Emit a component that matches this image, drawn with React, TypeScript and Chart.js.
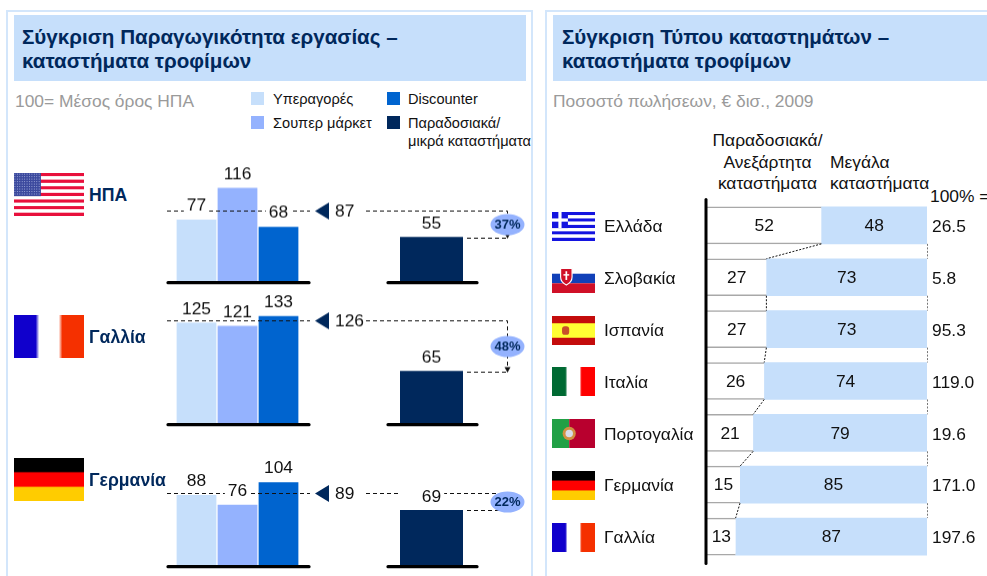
import React, { useEffect, useRef } from "react";
import { Chart, registerables } from "chart.js";

Chart.register(...registerables);

const FONT = "'Liberation Sans', Arial, sans-serif";
const NAVY = "#00285c";
const LIGHT = "#c6dffb";
const MID = "#94b2fe";
const BLUE = "#0064cf";
const NUM = 17.4;

// Productivity panel
const productivityCountries = ["ΗΠΑ", "Γαλλία", "Γερμανία"];
const storeTypes = ["Υπεραγορές", "Σουπερ μάρκετ", "Discounter"];
const traditionalLabel = ["Παραδοσιακά/ μικρά καταστήματα"];
const hypermarkets = [77, 125, 88];
const supermarkets = [116, 121, 76];
const discounters = [68, 133, 104];
const traditional = [55, 65, 69];
const modernAverage = [87, 126, 89];
const gapLabels = ["37%", "48%", "22%"];

// Share panel
const shareCountries = ["Ελλάδα", "Σλοβακία", "Ισπανία", "Ιταλία", "Πορτογαλία", "Γερμανία", "Γαλλία"];
const independentShare = [52, 27, 27, 26, 21, 15, 13];
const largeShare = [48, 73, 73, 74, 79, 85, 87];
const totals = ["26.5", "5.8", "95.3", "119.0", "19.6", "171.0", "197.6"];

const Y_MAX = 160;
const PLOT_H = 129.6;
const PAD_TOP = 20;
const PAD_BOTTOM = 4;
const baselines = [282, 424, 566.5];

function barLabel(ctx: any, text: string, x: number, y: number, boxLeft?: number) {
  ctx.font = `${NUM}px ${FONT}`;
  const w = ctx.measureText(text).width;
  const l = boxLeft === undefined ? x - w / 2 - 3 : boxLeft;
  ctx.fillStyle = "#fff";
  ctx.fillRect(l, y - 8, x + w / 2 + 3 - l, 16);
  ctx.fillStyle = "#111";
  ctx.textAlign = "center";
  ctx.textBaseline = "middle";
  ctx.fillText(text, x, y);
}

function crisp(v: number) {
  return Math.round(v) + 0.5;
}

function dashed(ctx: any, pts: number[][]) {
  ctx.save();
  ctx.strokeStyle = "#111";
  ctx.lineWidth = 1;
  ctx.setLineDash([4, 3]);
  ctx.beginPath();
  pts.forEach((p, i) => (i ? ctx.lineTo(p[0], p[1]) : ctx.moveTo(p[0], p[1])));
  ctx.stroke();
  ctx.restore();
}

function baseline(ctx: any, x0: number, x1: number, y: number) {
  ctx.save();
  ctx.strokeStyle = "#000";
  ctx.lineWidth = 3.2;
  ctx.lineCap = "round";
  ctx.beginPath();
  ctx.moveTo(x0, y);
  ctx.lineTo(x1, y);
  ctx.stroke();
  ctx.restore();
}

function modernConfig(i: number): any {
  const values = [hypermarkets[i], supermarkets[i], discounters[i]];
  return {
    type: "bar",
    data: {
      labels: storeTypes,
      datasets: [{
        data: values,
        backgroundColor: [LIGHT, MID, BLUE],
        barPercentage: 0.97,
        categoryPercentage: 1,
      }],
    },
    options: {
      responsive: false,
      animation: false,
      layout: { padding: { left: 16, right: 71, top: PAD_TOP, bottom: PAD_BOTTOM } },
      plugins: { legend: { display: false }, tooltip: { enabled: false } },
      scales: {
        x: { display: false },
        y: { display: false, min: 0, max: Y_MAX },
      },
    },
    plugins: [{
      id: "modernMarks",
      afterDatasetsDraw(chart: any) {
        const { ctx, chartArea: a, scales } = chart;
        const y0 = scales.y.getPixelForValue(0);
        const ya = crisp(scales.y.getPixelForValue(modernAverage[i]) - 1);
        baseline(ctx, a.left - 8, a.right + 10, y0 + 0.7);
        dashed(ctx, [[a.left - 9, ya], [a.right + 11, ya]]);
        ctx.save();
        chart.getDatasetMeta(0).data.forEach((b: any, k: number) => {
          barLabel(ctx, String(values[k]), b.x, b.y - 13.5);
        });
        ctx.fillStyle = NAVY;
        ctx.beginPath();
        ctx.moveTo(a.right + 16, ya);
        ctx.lineTo(a.right + 30, ya - 8.5);
        ctx.lineTo(a.right + 30, ya + 8.5);
        ctx.closePath();
        ctx.fill();
        ctx.fillStyle = "#111";
        ctx.font = `${NUM}px ${FONT}`;
        ctx.textAlign = "left";
        ctx.textBaseline = "middle";
        ctx.fillText(String(modernAverage[i]), a.right + 36, ya + 1);
        ctx.restore();
      },
    }],
  };
}

function traditionalConfig(i: number): any {
  return {
    type: "bar",
    data: {
      labels: traditionalLabel,
      datasets: [{
        data: [traditional[i]],
        backgroundColor: NAVY,
        barPercentage: 1,
        categoryPercentage: 1,
      }],
    },
    options: {
      responsive: false,
      animation: false,
      layout: { padding: { left: 40, right: 67, top: PAD_TOP, bottom: PAD_BOTTOM } },
      plugins: { legend: { display: false }, tooltip: { enabled: false } },
      scales: {
        x: { display: false },
        y: { display: false, min: 0, max: Y_MAX },
      },
    },
    plugins: [{
      id: "gapMarks",
      afterDatasetsDraw(chart: any) {
        const { ctx, chartArea: a, scales } = chart;
        const y0 = scales.y.getPixelForValue(0);
        const ya = crisp(scales.y.getPixelForValue(modernAverage[i]) - 1);
        const bar = chart.getDatasetMeta(0).data[0];
        const yb = crisp(bar.y);
        const xr = Math.round(a.right + 44) + 0.5;
        baseline(ctx, a.left - 12, a.right + 14, y0 + 0.7);
        dashed(ctx, [[6, ya], [xr, ya], [xr, yb - 2]]);
        dashed(ctx, [[a.right + 4, yb], [xr, yb]]);
        ctx.save();
        barLabel(ctx, String(traditional[i]), bar.x, bar.y - 13.5, a.left);
        ctx.fillStyle = "#111";
        ctx.beginPath();
        ctx.moveTo(xr - 3, yb - 5);
        ctx.lineTo(xr + 3, yb - 5);
        ctx.lineTo(xr, yb + 0.5);
        ctx.closePath();
        ctx.fill();
        const cy = (ya + yb) / 2;
        ctx.fillStyle = MID;
        ctx.beginPath();
        ctx.ellipse(xr, cy, 17, 10.5, 0, 0, Math.PI * 2);
        ctx.fill();
        ctx.fillStyle = NAVY;
        ctx.font = `bold 13px ${FONT}`;
        ctx.textAlign = "center";
        ctx.textBaseline = "middle";
        ctx.fillText(gapLabels[i], xr, cy + 0.5);
        ctx.restore();
      },
    }],
  };
}

function shareConfig(): any {
  return {
    type: "bar",
    data: {
      labels: shareCountries,
      datasets: [
        {
          data: independentShare,
          backgroundColor: "#fff",
          borderColor: "#a8a8a8",
          borderWidth: { top: 1.5, bottom: 1.5, right: 0, left: 0 },
          borderSkipped: false,
          barThickness: 37,
          stack: "s",
        },
        {
          data: largeShare,
          backgroundColor: LIGHT,
          barThickness: 37,
          stack: "s",
        },
      ],
    },
    options: {
      indexAxis: "y",
      responsive: false,
      animation: false,
      layout: { padding: { top: 9.5, bottom: 11.5, right: 60, left: 0 } },
      plugins: { legend: { display: false }, tooltip: { enabled: false } },
      scales: {
        x: { display: false, stacked: true, min: 0, max: 100 },
        y: {
          stacked: true,
          grid: { display: false, drawTicks: false },
          border: { display: false },
          ticks: {
            crossAlign: "far",
            padding: 0,
            labelOffset: 2,
            color: "#111",
            font: { family: FONT, size: NUM },
          },
          afterFit(scale: any) {
            scale.width = 103;
          },
        },
      },
    },
    plugins: [{
      id: "shareMarks",
      afterDatasetsDraw(chart: any) {
        const { ctx, chartArea: area } = chart;
        const a = chart.getDatasetMeta(0).data;
        const b = chart.getDatasetMeta(1).data;
        ctx.save();
        ctx.lineWidth = 1;
        ctx.setLineDash([2, 1.5]);
        a.forEach((bar: any, k: number) => {
          if (k === a.length - 1) return;
          const next = a[k + 1];
          const h = bar.height / 2;
          ctx.strokeStyle = "#111";
          ctx.beginPath();
          ctx.moveTo(bar.x, bar.y + h);
          ctx.lineTo(next.x, next.y - h);
          ctx.stroke();
          const r = Math.round(b[k].x) + 0.5;
          ctx.strokeStyle = "#777";
          ctx.beginPath();
          ctx.moveTo(r, bar.y + h);
          ctx.lineTo(r, next.y - h);
          ctx.stroke();
        });
        ctx.setLineDash([]);
        ctx.strokeStyle = "#000";
        ctx.lineWidth = 3;
        ctx.lineCap = "round";
        ctx.beginPath();
        ctx.moveTo(area.left - 1, area.top);
        ctx.lineTo(area.left - 1, area.bottom + 1);
        ctx.stroke();
        ctx.font = `${NUM}px ${FONT}`;
        ctx.fillStyle = "#111";
        ctx.textBaseline = "middle";
        ctx.textAlign = "center";
        a.forEach((bar: any, k: number) => {
          ctx.fillText(String(independentShare[k]), (bar.base + bar.x) / 2, bar.y + 1);
          ctx.fillText(String(largeShare[k]), (b[k].base + b[k].x) / 2, b[k].y + 1);
        });
        ctx.textAlign = "left";
        a.forEach((bar: any, k: number) => {
          ctx.fillText(totals[k], b[k].x + 5, bar.y + 2);
        });
        ctx.restore();
      },
    }],
  };
}

function ChartBox({ config, left, top, width, height }: any) {
  const ref = useRef<HTMLCanvasElement>(null);
  useEffect(() => {
    const chart = new Chart(ref.current as HTMLCanvasElement, config);
    return () => chart.destroy();
  }, []);
  return (
    <canvas
      ref={ref}
      width={width}
      height={height}
      style={{ position: "absolute", left, top, width, height }}
    />
  );
}

function Svg({ x, y, w, h, vb, children }: any) {
  return (
    <svg
      viewBox={vb}
      preserveAspectRatio="none"
      style={{ position: "absolute", left: x, top: y, width: w, height: h }}
    >
      {children}
    </svg>
  );
}

function Flag({ name, x, y, w, h }: any) {
  if (name === "us") {
    const stripes = [];
    for (let i = 0; i < 13; i++) {
      stripes.push(<rect key={i} x={0} y={i} width={13} height={1} fill={i % 2 ? "#fff" : "#e8103c"} />);
    }
    const stars = [];
    for (let r = 0; r < 9; r++) {
      for (let c = 0; c < 11; c++) {
        stars.push(<rect key={`${r}-${c}`} x={0.1 + c * 0.45} y={0.2 + r * 0.75} width={0.15} height={0.3} fill="#aab4e0" />);
      }
    }
    return (
      <Svg x={x} y={y} w={w} h={h} vb="0 0 13 13">
        {stripes}
        <rect x={0} y={0} width={5} height={7} fill="#3c4a9e" />
        {stars}
      </Svg>
    );
  }
  if (name === "fr" || name === "it") {
    const c = name === "fr" ? ["#1000cc", "#fff", "#f53000"] : ["#006a33", "#fff", "#ff0000"];
    return (
      <div style={{
        position: "absolute", left: x, top: y, width: w, height: h,
        background: `linear-gradient(90deg, ${c[0]} 31%, ${c[1]} 36%, ${c[1]} 64%, ${c[2]} 69%)`,
      }} />
    );
  }
  if (name === "de") {
    return (
      <div style={{
        position: "absolute", left: x, top: y, width: w, height: h,
        background: "linear-gradient(180deg, #000 31%, #c00000 34%, #ff0000 36%, #ff0000 65%, #ffcc00 69%)",
      }} />
    );
  }
  if (name === "es") {
    return (
      <Svg x={x} y={y} w={w} h={h} vb="0 0 30 20">
        <rect width={30} height={20} fill="#c40c0c" />
        <rect y={5} width={30} height={10} fill="#ffff33" />
        <rect x={7} y={7} width={5} height={6} rx={2} fill="#c8502a" />
      </Svg>
    );
  }
  if (name === "gr") {
    const s = [];
    for (let i = 0; i < 9; i++) {
      s.push(<rect key={i} x={0} y={i} width={13.5} height={1} fill={i % 2 ? "#fff" : "#1414e0"} />);
    }
    return (
      <Svg x={x} y={y} w={w} h={h} vb="0 0 13.5 9">
        {s}
        <rect width={5} height={5} fill="#1414e0" />
        <rect x={2} width={1} height={5} fill="#fff" />
        <rect y={2} width={5} height={1} fill="#fff" />
      </Svg>
    );
  }
  if (name === "sk") {
    return (
      <Svg x={x} y={y} w={w} h={h} vb="0 0 30 20">
        <rect width={30} height={20} fill="#fff" />
        <rect y={6.7} width={30} height={6.6} fill="#1140b8" />
        <rect y={13.3} width={30} height={6.7} fill="#d01028" />
        <path d="M6 3 h8 v6 q0 3.5 -4 5.5 q-4 -2 -4 -5.5 z" fill="#d01028" stroke="#fff" strokeWidth={0.8} />
        <rect x={9.4} y={5} width={1.2} height={6} fill="#fff" />
        <rect x={8} y={7} width={4} height={1} fill="#fff" />
      </Svg>
    );
  }
  return (
    <Svg x={x} y={y} w={w} h={h} vb="0 0 30 20">
      <rect width={12} height={20} fill="#21a045" />
      <rect x={12} width={18} height={20} fill="#b8002e" />
      <circle cx={12} cy={10} r={4.6} fill="#d09040" />
      <circle cx={12} cy={10} r={2.6} fill="#d8dce8" />
    </Svg>
  );
}

function Txt({ x, y, size = NUM, color = "#111", bold, center, w, children }: any) {
  return (
    <div style={{
      position: "absolute",
      left: x,
      top: y,
      width: w,
      fontSize: size,
      fontFamily: FONT,
      fontWeight: bold ? 700 : 400,
      color,
      lineHeight: 1,
      whiteSpace: "nowrap",
      textAlign: center ? "center" : "left",
    }}>
      {children}
    </div>
  );
}

function Box({ x, y, w, h, color }: any) {
  return <div style={{ position: "absolute", left: x, top: y, width: w, height: h, background: color }} />;
}

const productivityFlags = [
  { name: "us", y: 173 },
  { name: "fr", y: 315 },
  { name: "de", y: 458 },
];
const shareFlags = ["gr", "sk", "es", "it", "pt", "de", "fr"];

export default function App() {
  return (
    <div style={{ position: "fixed", left: 0, top: 0, width: 987, height: 576, background: "#fff", overflow: "hidden" }}>
      {/* panel frames */}
      <div style={{ position: "absolute", left: 6, top: 10, width: 527, height: 580, border: "2px solid #d3e6fb", boxSizing: "border-box" }} />
      <div style={{ position: "absolute", left: 545, top: 10, width: 460, height: 580, border: "2px solid #d3e6fb", boxSizing: "border-box" }} />

      {/* titles */}
      <Box x={14} y={15} w={512} h={66} color={LIGHT} />
      <Box x={553} y={15} w={434} h={66} color={LIGHT} />
      <Txt x={22} y={27} size={20.6} bold color={NAVY}>Σύγκριση Παραγωγικότητα εργασίας –</Txt>
      <Txt x={22} y={51} size={20.6} bold color={NAVY}>καταστήματα τροφίμων</Txt>
      <Txt x={562} y={27} size={20.6} bold color={NAVY}>Σύγκριση Τύπου καταστημάτων –</Txt>
      <Txt x={562} y={51} size={20.6} bold color={NAVY}>καταστήματα τροφίμων</Txt>
      <Txt x={15} y={93} size={17.4} color="#9a9a9a">100= Μέσος όρος ΗΠΑ</Txt>
      <Txt x={553} y={93} size={17.4} color="#9a9a9a">Ποσοστό πωλήσεων, € δισ., 2009</Txt>

      {/* legend */}
      <Box x={251} y={92} w={13} h={13} color={LIGHT} />
      <Box x={251} y={116} w={13} h={13} color={MID} />
      <Box x={387} y={92} w={13} h={13} color={BLUE} />
      <Box x={387} y={116} w={13} h={13} color={NAVY} />
      <Txt x={273} y={92} size={14.6}>{storeTypes[0]}</Txt>
      <Txt x={273} y={116} size={14.6}>{storeTypes[1]}</Txt>
      <Txt x={408} y={92} size={14.6}>{storeTypes[2]}</Txt>
      <Txt x={408} y={116} size={14.6}>Παραδοσιακά/</Txt>
      <Txt x={408} y={134} size={14.6}>μικρά καταστήματα</Txt>

      {/* productivity rows */}
      {productivityCountries.map((c, i) => (
        <React.Fragment key={c}>
          <Flag name={productivityFlags[i].name} x={14} y={productivityFlags[i].y} w={70} h={43} />
          <Txt x={89} y={[187, 329, 472][i]} size={17.6} bold color={NAVY}>{c}</Txt>
          <ChartBox
            config={modernConfig(i)}
            left={160}
            top={baselines[i] - PLOT_H - PAD_TOP}
            width={210}
            height={PLOT_H + PAD_TOP + PAD_BOTTOM}
          />
          <ChartBox
            config={traditionalConfig(i)}
            left={360}
            top={baselines[i] - PLOT_H - PAD_TOP}
            width={170}
            height={PLOT_H + PAD_TOP + PAD_BOTTOM}
          />
        </React.Fragment>
      ))}

      {/* share panel headers */}
      <Txt x={707.5} y={132} w={120} center>Παραδοσιακά/</Txt>
      <Txt x={707.5} y={154} w={120} center>Ανεξάρτητα</Txt>
      <Txt x={707.5} y={175} w={120} center>καταστήματα</Txt>
      <Txt x={830} y={154}>Μεγάλα</Txt>
      <Txt x={830} y={175}>καταστήματα</Txt>
      <Txt x={930} y={188}>100% =</Txt>

      {/* share flags */}
      {shareFlags.map((f, i) => (
        <Flag key={f} name={f} x={552} y={212 + i * 51.8} w={43} h={29} />
      ))}
      <ChartBox config={shareConfig()} left={604} top={189} width={383} height={385} />
    </div>
  );
}
